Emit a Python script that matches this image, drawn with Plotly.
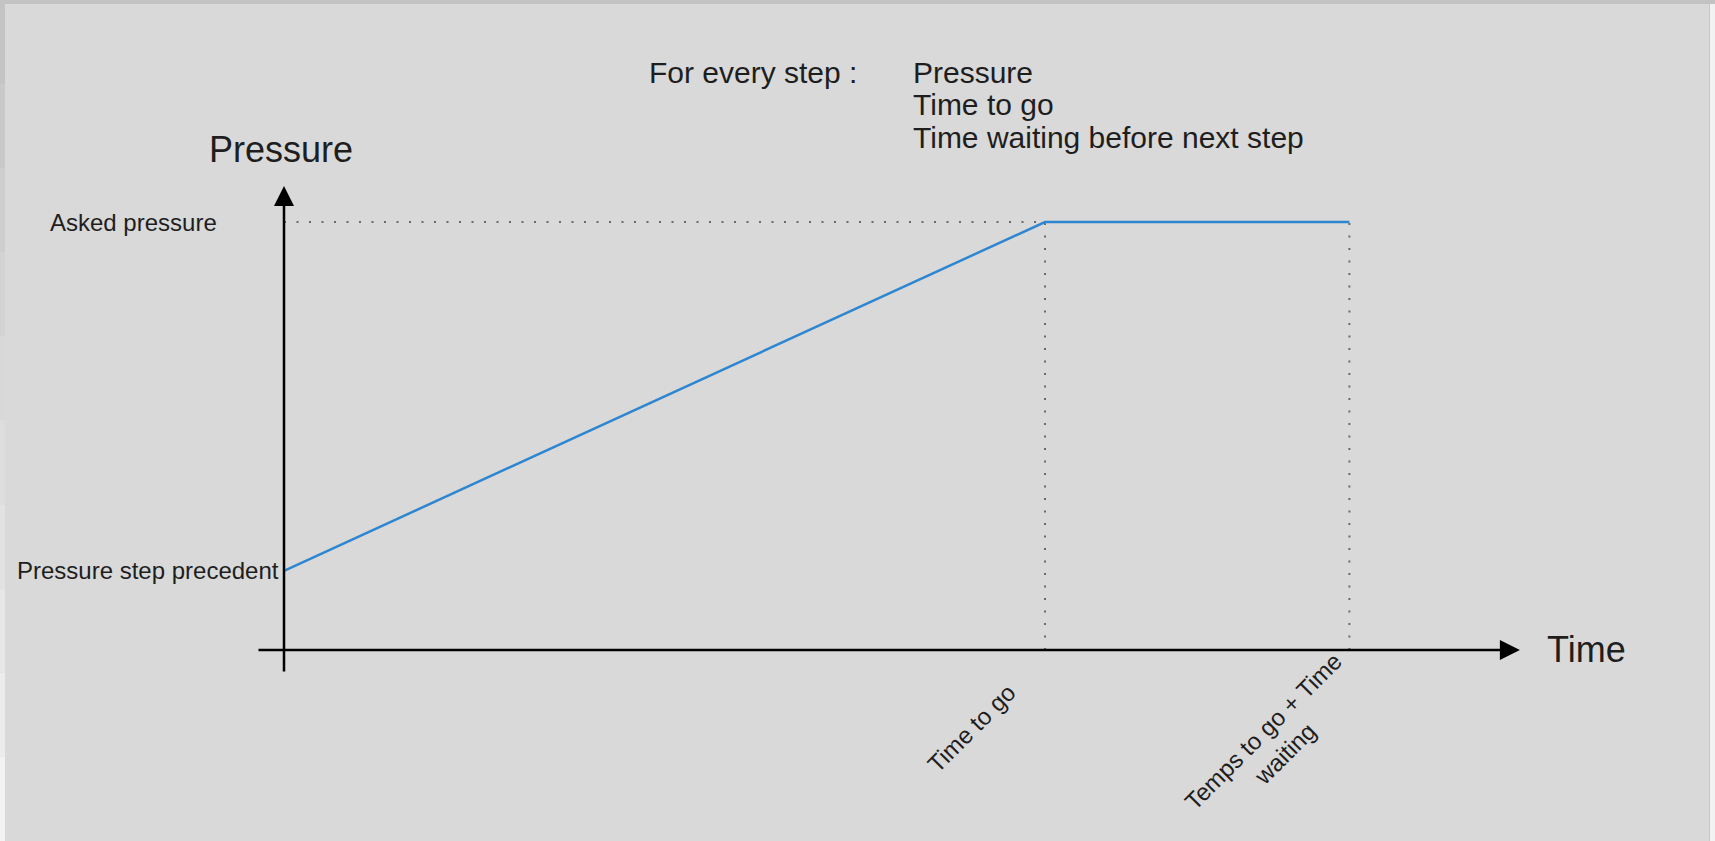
import plotly.graph_objects as go

# ---------------- data (schematic pressure step) ----------------
time_points = [0, 10, 14]            # start, time to go, time to go + time waiting
pressure_points = [1.85, 10, 10]     # previous step pressure, asked pressure, asked pressure
tick_labels = ["Time to go", "Temps to go + Time<br>waiting"]
level_labels = ["Pressure step precedent", "Asked pressure"]
info_title = "For every step :"
info_lines = ["Pressure", "Time to go", "Time waiting before next step"]

# ---------------- layout constants ----------------
W, H = 1715, 841
FONT = "Liberation Sans, Arial, sans-serif"
TXT = "#1e1e1e"
BG = "#d9d9d9"

# pixel anchors of the coordinate system
ox_px, oy_px = 284, 650          # origin
px_per_x, px_per_y = 76.1, 42.8
x0 = -ox_px / px_per_x
x1 = x0 + W / px_per_x
y1 = oy_px / px_per_y
y0 = y1 - H / px_per_y

t_go = time_points[1]
t_end = time_points[2]
p_prev = pressure_points[0]
p_ask = pressure_points[1]

fig = go.Figure()

# dotted guide lines
dot = dict(color="#6a6a6a", width=2, dash="2px,10.5px")
fig.add_trace(go.Scatter(x=[time_points[0], t_go], y=[p_ask, p_ask], mode="lines",
                         line=dot, hoverinfo="skip", showlegend=False))
for t in (t_go, t_end):
    fig.add_trace(go.Scatter(x=[t, t], y=[0, p_ask], mode="lines",
                             line=dot, hoverinfo="skip", showlegend=False))

# pressure profile
fig.add_trace(go.Scatter(x=time_points, y=pressure_points, mode="lines",
                         line=dict(color="#2e86d1", width=2.5),
                         hoverinfo="skip", showlegend=False))

ann = []
# axes with arrows
axis_arrow = dict(showarrow=True, arrowhead=2, arrowsize=1.6, arrowwidth=2.5,
                  arrowcolor="#000000", axref="x", ayref="y", text="", standoff=0,
                  startstandoff=0)
ann.append(dict(x=0, y=10.84, ax=0, ay=-0.54, **axis_arrow))
ann.append(dict(x=16.24, y=0, ax=-0.355, ay=0, **axis_arrow))

# axis titles
ann.append(dict(x=0, y=10.84, text="Pressure", showarrow=False, xanchor="center",
                yanchor="middle", xshift=-3, yshift=37, font=dict(size=36, color=TXT, family=FONT)))
ann.append(dict(x=16.24, y=0, text="Time", showarrow=False, xanchor="left",
                yanchor="middle", xshift=25, yshift=1, font=dict(size=36, color=TXT, family=FONT)))

# level labels on the pressure axis
ann.append(dict(x=0, y=p_ask, text=level_labels[1], showarrow=False, xanchor="right",
                yanchor="middle", xshift=-65, font=dict(size=24, color=TXT, family=FONT)))
ann.append(dict(x=0, y=p_prev, text=level_labels[0], showarrow=False, xanchor="right",
                yanchor="middle", xshift=-3, font=dict(size=24, color=TXT, family=FONT)))

# rotated time labels
ann.append(dict(x=t_go, y=0, text=tick_labels[0], showarrow=False, textangle=-45,
                xanchor="center", yanchor="middle", xshift=-74, yshift=-78,
                font=dict(size=24, color=TXT, family=FONT)))
ann.append(dict(x=t_end, y=0, text=tick_labels[1], showarrow=False, textangle=-45,
                xanchor="center", yanchor="middle", xshift=-75, yshift=-92, align="center",
                font=dict(size=24, color=TXT, family=FONT)))

# info text at the top
ann.append(dict(xref="paper", yref="paper", x=647 / W, y=1 - 72 / H, text=info_title,
                showarrow=False, xanchor="left", yanchor="middle",
                font=dict(size=30, color=TXT, family=FONT)))
for i, line in enumerate(info_lines):
    ann.append(dict(xref="paper", yref="paper", x=911 / W, y=1 - (72 + 32.5 * i) / H,
                    text=line, showarrow=False, xanchor="left", yanchor="middle",
                    font=dict(size=30, color=TXT, family=FONT)))

# frame strips (screenshot border)
shapes = [
    dict(type="rect", xref="paper", yref="paper", x0=0, x1=1, y0=1 - 4 / H, y1=1,
         fillcolor="#c3c3c3", line_width=0, layer="below"),
    dict(type="rect", xref="paper", yref="paper", x0=1709 / W, x1=1, y0=0, y1=1 - 4 / H,
         fillcolor="#f2f2f2", line_width=0, layer="below"),
    dict(type="rect", xref="paper", yref="paper", x0=1709 / W, x1=1710 / W, y0=0, y1=1 - 4 / H,
         fillcolor="#c8c8c8", line_width=0, layer="below"),
]
# left strip fading from gray (top) to near white (bottom)
n_seg = 10
for k in range(n_seg):
    g = int(0xc4 + (0xf2 - 0xc4) * k / (n_seg - 1))
    shapes.append(dict(type="rect", xref="paper", yref="paper", x0=0, x1=5 / W,
                       y0=1 - (k + 1) / n_seg, y1=1 - k / n_seg,
                       fillcolor=f"rgb({g},{g},{g})", line_width=0, layer="below"))

fig.update_layout(
    width=W, height=H, margin=dict(l=0, r=0, t=0, b=0),
    paper_bgcolor=BG, plot_bgcolor="rgba(0,0,0,0)",
    xaxis=dict(range=[x0, x1], visible=False, fixedrange=True),
    yaxis=dict(range=[y0, y1], visible=False, fixedrange=True),
    annotations=ann, shapes=shapes, showlegend=False,
)

fig.write_html("out.html", config={"displayModeBar": False},
               post_script="document.body.style.margin='0';document.body.style.overflow='hidden';")
